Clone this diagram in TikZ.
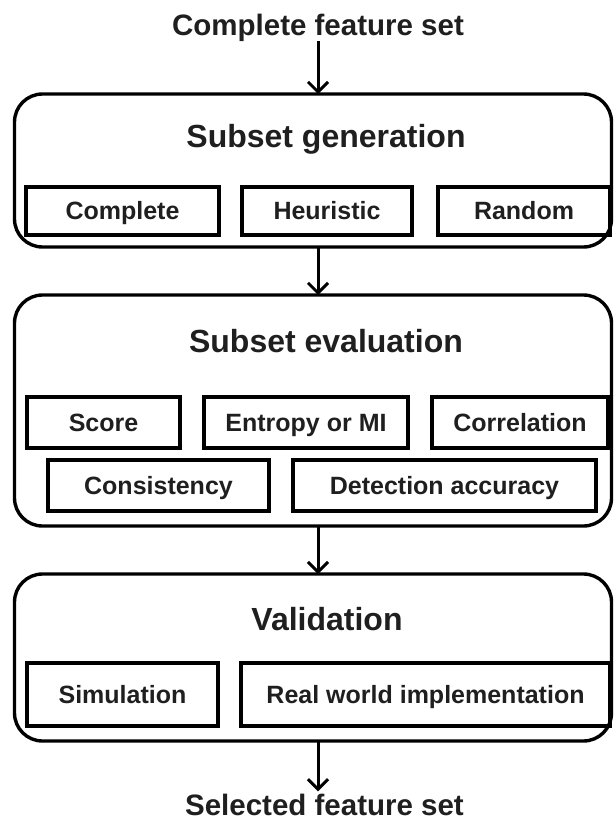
\documentclass[tikz,border=0pt]{standalone}
\usepackage{fontspec}
\setmainfont{Liberation Sans}
\usetikzlibrary{arrows.meta}
\begin{document}
\begin{tikzpicture}[x=1pt,y=-1pt,
  stage/.style={draw, line width=3.4pt, rounded corners=28pt, inner sep=0pt, outer sep=0pt},
  item/.style={draw, line width=3.2pt, inner sep=0pt, outer sep=0pt, text=black!88,
    font=\fontsize{25}{30}\selectfont\bfseries, text height=17.9pt, text depth=0pt},
  heading/.style={inner sep=0pt, text=black!88,
    font=\fontsize{32}{38}\selectfont\bfseries, text height=22.9pt, text depth=0pt},
  endlabel/.style={inner xsep=0pt, inner ysep=6pt, text=black!88,
    font=\fontsize{29.5}{35}\selectfont\bfseries, text height=21.1pt, text depth=0pt},
  arr/.style={line width=3pt, -{Straight Barb[length=10pt,width=20pt]}}]
\useasboundingbox (0,0) rectangle (614,821);

% input and output labels
\node[endlabel] (input) at (318,24.5) {Complete feature set};
\node[endlabel, inner ysep=3pt] (output) at (324.5,805) {Selected feature set};

% the three stages
\node[stage, minimum width=597pt, minimum height=153pt] (gen) at (313,170.5) {};
\node[stage, minimum width=597pt, minimum height=231pt] (eval) at (313,410.5) {};
\node[stage, minimum width=597pt, minimum height=167pt] (val) at (313,657.5) {};

\node[heading] (genT) at (326,136) {Subset generation};
\node[heading] (evalT) at (326,341.5) {Subset evaluation};
\node[heading] (valT) at (327,619) {Validation};

% subset generation strategies
\node[item, minimum width=193pt, minimum height=48pt] (complete) at (122.5,211) {Complete};
\node[item, minimum width=170pt, minimum height=48pt] (heuristic) at (327,211) {Heuristic};
\node[item, minimum width=172pt, minimum height=48pt] (random) at (524,211) {Random};

% evaluation criteria
\node[item, minimum width=153pt, minimum height=51pt] (score) at (103.5,422.5) {Score};
\node[item, minimum width=204pt, minimum height=51pt] (entropy) at (306,422.5) {Entropy or MI};
\node[item, minimum width=176pt, minimum height=51pt] (corr) at (520,422.5) {Correlation};
\node[item, minimum width=221pt, minimum height=51pt] (consist) at (158.5,485.5) {Consistency};
\node[item, minimum width=303pt, minimum height=51pt] (detect) at (444.5,485.5) {Detection accuracy};

% validation methods
\node[item, minimum width=191pt, minimum height=63pt] (sim) at (122.5,694.5) {Simulation};
\node[item, minimum width=369pt, minimum height=63pt] (real) at (425.5,694.5) {Real world implementation};

% flow arrows
\draw[arr] (input.south) -- (input.south |- gen.north);
\draw[arr] (gen.south -| input.south) -- (eval.north -| input.south);
\draw[arr] (eval.south -| input.south) -- (val.north -| input.south);
\draw[arr] (val.south -| input.south) -- (output.north -| input.south);
\end{tikzpicture}
\end{document}
